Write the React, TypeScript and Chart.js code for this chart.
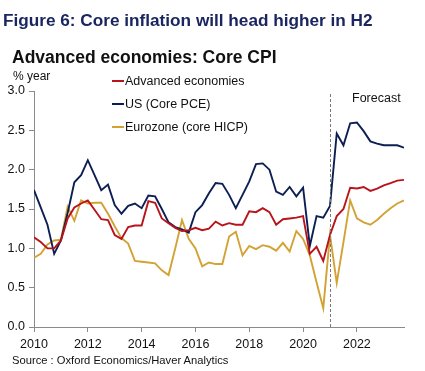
import React, { useEffect, useRef } from "react";
import { Chart, registerables } from "chart.js";

Chart.register(...registerables);

// ---- data ----
const years = [2010, 2011, 2012, 2013, 2014, 2015, 2016, 2017, 2018, 2019, 2020, 2021, 2022, 2023];
const quarterNames = ["Q1", "Q2", "Q3", "Q4"];
const periods = years.flatMap((y) => quarterNames.map((q) => `${y}${q}`));
const forecastStart = "2021Q1";
const xTickYears = [2010, 2012, 2014, 2016, 2018, 2020, 2022];
const yTickValues = [0, 0.5, 1, 1.5, 2, 2.5, 3];

const advanced = [
  1.14, 1.08, 1.0, 1.0, 1.1, 1.38, 1.52, 1.57, 1.61, 1.49, 1.37, 1.36, 1.17, 1.12,
  1.27, 1.29, 1.29, 1.6, 1.58, 1.38, 1.32, 1.26, 1.22, 1.23, 1.26, 1.23, 1.25, 1.34,
  1.29, 1.32, 1.3, 1.3, 1.47, 1.46, 1.51, 1.46, 1.3, 1.37, 1.38, 1.39, 1.41, 0.93,
  1.02, 0.84, 1.17, 1.41, 1.5, 1.77, 1.76, 1.78, 1.73, 1.76, 1.8, 1.83, 1.86, 1.87,
];
const usCorePce = [
  1.74, 1.52, 1.3, 0.93, 1.1, 1.45, 1.84, 1.93, 2.12, 1.93, 1.74, 1.81, 1.55, 1.44,
  1.54, 1.57, 1.51, 1.67, 1.66, 1.5, 1.33, 1.27, 1.24, 1.2, 1.46, 1.55, 1.7, 1.83,
  1.82, 1.68, 1.51, 1.68, 1.85, 2.07, 2.08, 2.0, 1.72, 1.68, 1.78, 1.66, 1.77, 1.03,
  1.41, 1.39, 1.54, 2.46, 2.31, 2.59, 2.6, 2.49, 2.36, 2.33, 2.31, 2.31, 2.31, 2.28,
];
const eurozone = [
  0.88, 0.93, 1.05, 1.1, 1.11, 1.53, 1.35, 1.61, 1.57, 1.58, 1.58, 1.44, 1.28, 1.13,
  1.06, 0.84, 0.83, 0.82, 0.81, 0.72, 0.66, 1.0, 1.36, 1.12, 1.0, 0.77, 0.82, 0.8,
  0.8, 1.15, 1.21, 0.91, 1.03, 0.99, 1.04, 1.02, 0.97, 1.07, 0.96, 1.22, 1.12, 0.91,
  0.57, 0.24, 1.17, 0.56, 1.08, 1.61, 1.38, 1.33, 1.3, 1.36, 1.44, 1.51, 1.57, 1.61,
];

const seriesNames = ["Advanced economies", "US (Core PCE)", "Eurozone (core HICP)"];
const seriesColors = ["#b8141c", "#0c1f52", "#d2a334"];
const seriesValues = [advanced, usCorePce, eurozone];

const periodToX = (p: string) => {
  const y = parseInt(p.slice(0, 4), 10);
  const q = parseInt(p.slice(5), 10);
  return y + (q - 1) / 4;
};

const FONT = '"Liberation Sans", Arial, Helvetica, sans-serif';

export default function App() {
  const ref = useRef<HTMLCanvasElement | null>(null);

  useEffect(() => {
    document.body.style.margin = "0";
    const canvas = ref.current;
    if (!canvas) return;

    const forecastLine = {
      id: "forecastLine",
      afterDatasetsDraw(chart: any) {
        const { ctx, chartArea, scales } = chart;
        const x = Math.round(scales.x.getPixelForValue(periodToX(forecastStart))) + 0.5;
        ctx.save();
        ctx.strokeStyle = "#7a7a7a";
        ctx.lineWidth = 1;
        ctx.setLineDash([3, 2]);
        ctx.beginPath();
        ctx.moveTo(x, chartArea.top + 3);
        ctx.lineTo(x, chartArea.bottom);
        ctx.stroke();
        ctx.restore();
      },
    };

    const chart = new Chart(canvas, {
      type: "line",
      data: {
        datasets: seriesValues.map((vals, k) => ({
          label: seriesNames[k],
          data: periods.map((p, i) => ({ x: periodToX(p), y: vals[i] })),
          borderColor: seriesColors[k],
          backgroundColor: seriesColors[k],
          borderWidth: 1.9,
          pointRadius: 0,
          tension: 0,
          fill: false,
        })),
      },
      options: {
        responsive: false,
        animation: false,
        events: [],
        layout: { padding: { top: 91, right: 21, left: 0, bottom: 0 } },
        plugins: {
          legend: { display: false },
          tooltip: { enabled: false },
          title: { display: false },
        },
        scales: {
          x: {
            type: "linear",
            min: periodToX(periods[0]),
            max: periodToX(periods[periods.length - 1]),
            afterBuildTicks: (scale: any) => {
              scale.ticks = xTickYears.map((v) => ({ value: v }));
            },
            afterFit: (scale: any) => {
              scale.height = 44;
            },
            ticks: {
              autoSkip: false,
              maxRotation: 0,
              padding: 5,
              color: "#111",
              font: { family: FONT, size: 12.5 },
              callback: (v: any) => String(v),
            },
            grid: {
              display: true,
              drawOnChartArea: false,
              drawTicks: true,
              tickLength: 5,
              color: "#8a8a8a",
            },
            border: { display: true, color: "#8a8a8a", width: 1 },
          },
          y: {
            type: "linear",
            min: 0,
            max: 3,
            afterBuildTicks: (scale: any) => {
              scale.ticks = yTickValues.map((v) => ({ value: v }));
            },
            afterFit: (scale: any) => {
              scale.width = 34;
            },
            ticks: {
              padding: 4,
              color: "#111",
              font: { family: FONT, size: 12.5 },
              callback: (v: any) => Number(v).toFixed(1),
            },
            grid: {
              display: true,
              drawOnChartArea: false,
              drawTicks: true,
              tickLength: 5,
              color: "#8a8a8a",
            },
            border: { display: true, color: "#8a8a8a", width: 1 },
          },
        },
      },
      plugins: [forecastLine],
    });
    return () => chart.destroy();
  }, []);

  const legendTops = [81, 104, 127];

  return (
    <div style={{ position: "relative", width: 425, height: 371, background: "#fff", fontFamily: FONT, overflow: "hidden" }}>
      <canvas ref={ref} width={425} height={371} style={{ position: "absolute", left: 0, top: 0, width: 425, height: 371 }} />
      <div style={{ position: "absolute", left: 3, top: 10, fontSize: 17.2, fontWeight: 700, color: "#1a2660", whiteSpace: "nowrap", lineHeight: "20px" }}>
        Figure 6: Core inflation will head higher in H2
      </div>
      <div style={{ position: "absolute", left: 12, top: 46, fontSize: 17.5, fontWeight: 700, color: "#111", whiteSpace: "nowrap", lineHeight: "22px" }}>
        Advanced economies: Core CPI
      </div>
      <div style={{ position: "absolute", left: 13, top: 69, fontSize: 12, color: "#111", whiteSpace: "nowrap", lineHeight: "14px" }}>
        % year
      </div>
      {seriesNames.map((name, k) => (
        <div key={name} style={{ position: "absolute", left: 112, top: legendTops[k] - 8, height: 16, display: "flex", alignItems: "center", whiteSpace: "nowrap" }}>
          <span style={{ display: "inline-block", width: 12, height: 2, background: seriesColors[k], marginRight: 1 }} />
          <span style={{ fontSize: 12.5, color: "#111", lineHeight: "16px" }}>{name}</span>
        </div>
      ))}
      <div style={{ position: "absolute", left: 352, top: 90, fontSize: 12.5, color: "#111", whiteSpace: "nowrap", lineHeight: "16px" }}>
        Forecast
      </div>
      <div style={{ position: "absolute", left: 12, top: 353, fontSize: 11.2, color: "#111", whiteSpace: "nowrap", lineHeight: "14px" }}>
        Source : Oxford Economics/Haver Analytics
      </div>
    </div>
  );
}
